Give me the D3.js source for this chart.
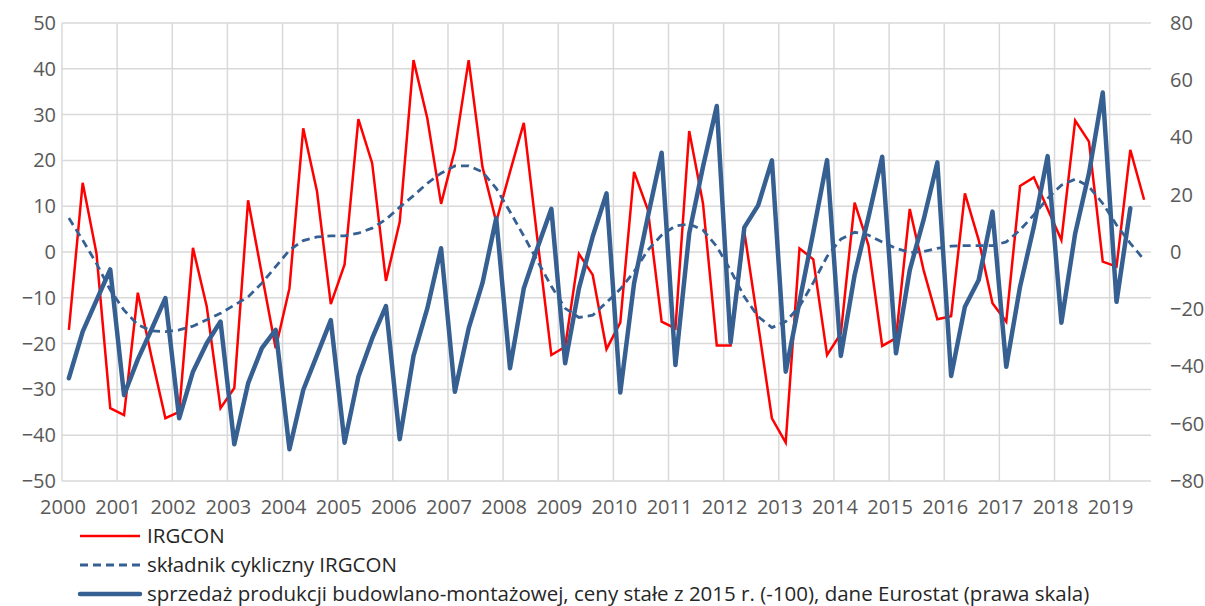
<!DOCTYPE html>
<html>
<head>
<meta charset="utf-8">
<script src="https://cdn.jsdelivr.net/npm/d3@7"></script>
<style>
  body { margin: 0; background: #fff; }
  svg text { font-family: "Open Sans", "Noto Sans", sans-serif; }
</style>
</head>
<body>
<div id="chart"></div>
<script>
// quarterly data 2000Q1 - 2019Q3
const years = d3.range(2000, 2020);
const quarters = years.flatMap(y => [1, 2, 3, 4].map(q => y + "Q" + q)).slice(0, 79);

// IRGCON (left scale)
const irgcon = [
  -17.0, 15.1, -0.3, -34.1, -35.6, -8.9, -23.0, -36.3,
  -34.9, 0.9, -11.9, -34.1, -29.7, 11.3, -4.9, -21.0,
  -7.9, 27.0, 13.2, -11.4, -2.7, 29.0, 19.4, -6.3,
  6.6, 41.9, 29.2, 10.5, 22.3, 41.9, 18.6, 6.6,
  17.5, 28.2, 2.5, -22.5, -20.7, -0.4, -5.0, -21.2,
  -15.4, 17.5, 9.2, -15.2, -16.7, 26.4, 10.6, -20.4,
  -20.4, 4.4, -15.8, -36.3, -41.6, 0.8, -1.6, -22.5,
  -17.8, 10.8, 1.5, -20.5, -18.8, 9.4, -3.9, -14.7,
  -14.0, 12.8, 2.6, -11.2, -15.2, 14.4, 16.3, 9.4,
  2.6, 28.7, 24.1, -2.1, -3.2, 22.3, 11.4
];

// składnik cykliczny IRGCON (left scale)
const cyclical = [
  7.4, 2.6, -2.5, -8.3, -12.7, -15.9, -17.2, -17.4,
  -17.0, -16.2, -14.8, -13.4, -11.6, -9.8, -6.8, -3.2,
  0.4, 2.5, 3.3, 3.5, 3.5, 4.1, 5.2, 7.1,
  9.8, 12.3, 15.0, 17.2, 18.8, 18.8, 17.5, 13.9,
  8.8, 3.5, -2.0, -7.5, -12.3, -14.3, -13.8, -11.0,
  -8.1, -4.3, 0.4, 3.7, 5.7, 6.1, 4.8, 1.2,
  -4.0, -9.8, -14.1, -16.5, -15.2, -11.9, -6.7, -1.0,
  2.8, 4.3, 3.7, 2.2, 0.8, -0.1, 0.1, 0.8,
  1.3, 1.4, 1.4, 1.4, 2.2, 4.8, 8.1, 11.7,
  14.6, 15.9, 14.3, 10.6, 5.9, 1.9, -1.7
];

// sprzedaż produkcji budowlano-montażowej (right scale), ends 2019Q2
const sales = [
  -44.1, -27.8, -16.9, -6.1, -50.0, -37.5, -27.0, -16.1,
  -58.1, -41.8, -31.9, -24.3, -67.2, -45.9, -33.6, -27.2,
  -68.9, -48.2, -36.0, -23.8, -66.6, -43.6, -30.2, -18.9,
  -65.4, -36.3, -19.7, 1.3, -48.8, -26.7, -10.9, 11.8,
  -40.6, -12.7, 1.6, 15.1, -38.9, -12.7, 5.4, 20.5,
  -49.1, -10.9, 12.3, 34.7, -39.5, 6.5, 29.8, 51.0,
  -31.6, 8.6, 16.3, 32.0, -41.8, -17.4, 6.9, 32.1,
  -36.3, -8.0, 12.1, 33.3, -35.4, -6.3, 11.2, 31.3,
  -43.3, -19.1, -9.8, 14.1, -40.1, -12.1, 8.8, 33.5,
  -24.7, 6.5, 27.5, 55.7, -17.4, 15.3
];

const leftTicks = d3.range(-50, 51, 10);
const rightTicks = d3.range(-80, 81, 20);

const legendItems = [
  { label: "IRGCON", color: "#ff0000", width: 2.5, dash: null },
  { label: "składnik cykliczny IRGCON", color: "#376092", width: 2.8, dash: "8,5" },
  { label: "sprzedaż produkcji budowlano-montażowej, ceny stałe z 2015 r. (-100), dane Eurostat (prawa skala)", color: "#376092", width: 4.5, dash: null }
];

const W = 1205, H = 606;
const plot = { left: 62, right: 1151, top: 23, bottom: 481 };

const svg = d3.select("#chart").append("svg")
  .attr("width", W)
  .attr("height", H);

const x = d3.scaleBand()
  .domain(quarters)
  .range([plot.left, plot.right])
  .padding(0);
const yL = d3.scaleLinear().domain([-50, 50]).range([plot.bottom, plot.top]);
const yR = d3.scaleLinear().domain([-80, 80]).range([plot.bottom, plot.top]);
const cx = q => x(q) + x.bandwidth() / 2;

// grid
const grid = svg.append("g").attr("stroke", "#d9d9d9").attr("stroke-width", 1.5);
grid.selectAll(".h").data(leftTicks).enter().append("line")
  .attr("x1", plot.left).attr("x2", plot.right)
  .attr("y1", d => yL(d)).attr("y2", d => yL(d));
grid.selectAll(".v").data(years).enter().append("line")
  .attr("x1", d => x(d + "Q1")).attr("x2", d => x(d + "Q1"))
  .attr("y1", plot.top).attr("y2", plot.bottom);

// axes
const axisFont = g => {
  g.select(".domain").remove();
  g.selectAll("line").remove();
  g.selectAll("text").attr("fill", "#595959").style("font-size", "20px");
};

svg.append("g")
  .attr("transform", "translate(" + (plot.left - 6) + ",0)")
  .call(d3.axisLeft(yL).tickValues(leftTicks).tickSize(0).tickPadding(0))
  .call(axisFont);

svg.append("g")
  .attr("transform", "translate(" + (plot.right + 19) + ",0)")
  .call(d3.axisRight(yR).tickValues(rightTicks).tickSize(0).tickPadding(0))
  .call(axisFont);

svg.append("g")
  .attr("transform", "translate(" + (-x.bandwidth() / 2 + 1) + "," + (plot.bottom + 19) + ")")
  .call(d3.axisBottom(x)
    .tickValues(years.map(d => d + "Q1"))
    .tickFormat(d => d.slice(0, 4))
    .tickSize(0).tickPadding(0))
  .call(axisFont);

// lines
const lineL = d3.line().x((d, i) => cx(quarters[i])).y(d => yL(d));
const lineR = d3.line().x((d, i) => cx(quarters[i])).y(d => yR(d));

svg.append("path").datum(irgcon)
  .attr("fill", "none").attr("stroke", "#ff0000")
  .attr("stroke-width", 2.5).attr("stroke-linejoin", "miter")
  .attr("d", lineL);

svg.append("path").datum(cyclical)
  .attr("fill", "none").attr("stroke", "#376092")
  .attr("stroke-width", 2.8).attr("stroke-dasharray", "8,5")
  .attr("d", lineL);

svg.append("path").datum(sales)
  .attr("fill", "none").attr("stroke", "#376092")
  .attr("stroke-width", 4.5).attr("stroke-linejoin", "round").attr("stroke-linecap", "round")
  .attr("d", lineR);

// legend
const legend = svg.append("g").selectAll("g").data(legendItems).enter().append("g")
  .attr("transform", (d, i) => "translate(80," + (536 + i * 29) + ")");
legend.append("line")
  .attr("x1", 0).attr("x2", 60)
  .attr("stroke", d => d.color)
  .attr("stroke-width", d => d.width)
  .attr("stroke-dasharray", d => d.dash)
  .attr("stroke-linecap", (d, i) => i === 2 ? "round" : "butt");
legend.append("text")
  .attr("x", 67).attr("dy", "0.35em")
  .attr("fill", "#262626")
  .style("font-size", "20.5px")
  .text(d => d.label);
</script>
</body>
</html>
